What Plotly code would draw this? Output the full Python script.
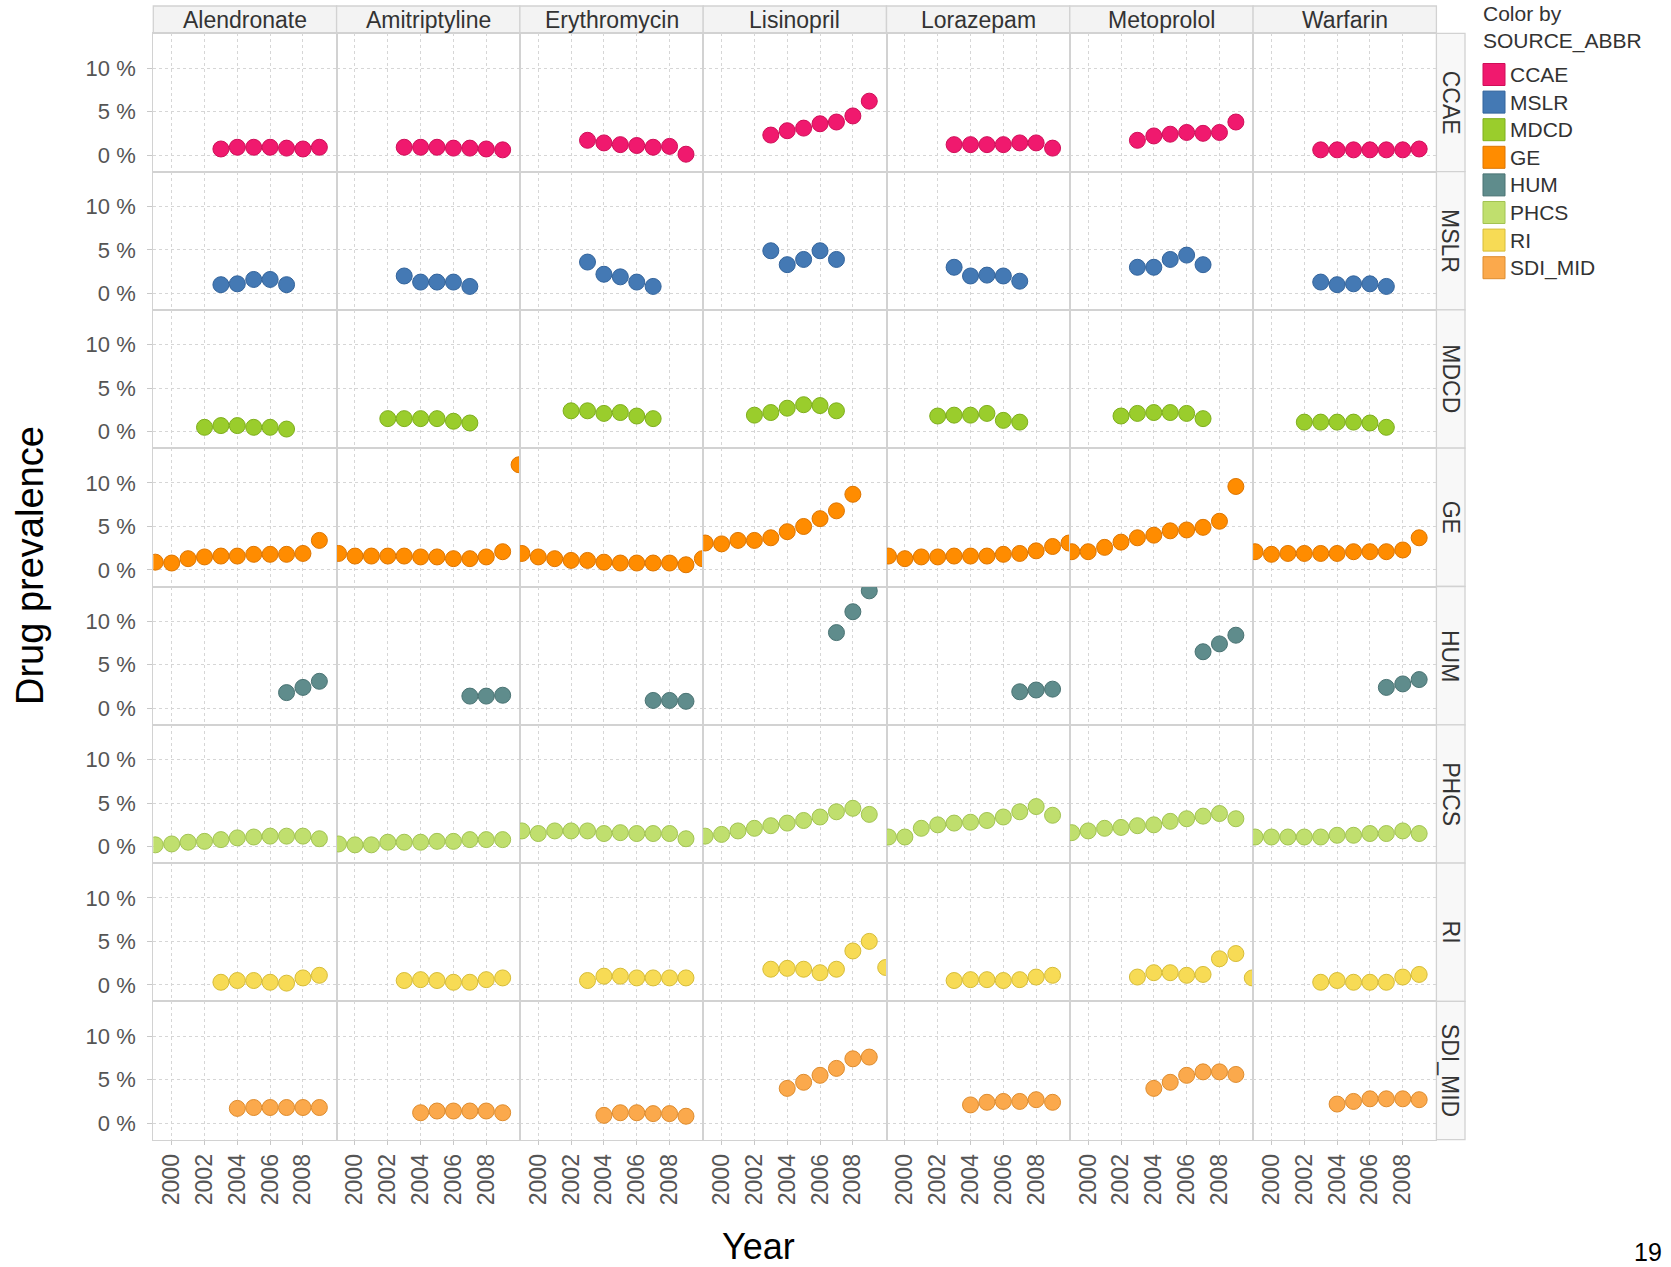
import plotly.graph_objects as go

W, H = 1671, 1267

DRUGS = ["Alendronate", "Amitriptyline", "Erythromycin", "Lisinopril", "Lorazepam", "Metoprolol", "Warfarin"]
SOURCES = ["CCAE", "MSLR", "MDCD", "GE", "HUM", "PHCS", "RI", "SDI_MID"]
X_TICKS = [2000, 2002, 2004, 2006, 2008]
Y_TICKS = [0, 5, 10]
Y_TICK_TEXT = ["0 %", "5 %", "10 %"]

# First year of each drug's series (order follows DRUGS), and prevalence values in %
CCAE_START = [2003, 2003, 2003, 2003, 2003, 2003, 2003]
CCAE = [
    [0.7, 0.9, 0.9, 0.9, 0.8, 0.7, 0.9],
    [0.9, 0.9, 0.9, 0.8, 0.8, 0.7, 0.6],
    [1.7, 1.4, 1.2, 1.1, 0.9, 1.0, 0.1],
    [2.3, 2.8, 3.1, 3.6, 3.8, 4.5, 6.2],
    [1.2, 1.2, 1.2, 1.2, 1.4, 1.4, 0.8],
    [1.7, 2.2, 2.4, 2.6, 2.5, 2.6, 3.8],
    [0.6, 0.6, 0.6, 0.6, 0.6, 0.6, 0.7],
]
MSLR_START = [2003, 2003, 2003, 2003, 2003, 2003, 2003]
MSLR = [
    [1.0, 1.1, 1.6, 1.6, 1.0],
    [2.0, 1.3, 1.3, 1.3, 0.8],
    [3.6, 2.2, 1.9, 1.3, 0.8],
    [4.9, 3.3, 3.9, 4.9, 3.9],
    [3.0, 2.0, 2.1, 2.0, 1.4],
    [3.0, 3.0, 3.9, 4.4, 3.3],
    [1.3, 1.0, 1.1, 1.1, 0.8],
]
MDCD_START = [2002, 2002, 2002, 2002, 2002, 2002, 2002]
MDCD = [
    [0.5, 0.7, 0.7, 0.5, 0.5, 0.3],
    [1.5, 1.5, 1.5, 1.5, 1.2, 1.0],
    [2.4, 2.4, 2.1, 2.2, 1.8, 1.5],
    [1.9, 2.2, 2.7, 3.1, 3.0, 2.4],
    [1.8, 1.9, 1.9, 2.1, 1.3, 1.1],
    [1.8, 2.1, 2.2, 2.2, 2.1, 1.5],
    [1.1, 1.1, 1.1, 1.1, 1.0, 0.5],
]
GE_START = [1999, 1999, 1999, 1999, 1999, 1999, 1999]
GE = [
    [0.9, 0.8, 1.3, 1.5, 1.6, 1.6, 1.8, 1.8, 1.8, 1.9, 3.4],
    [1.9, 1.6, 1.6, 1.6, 1.6, 1.5, 1.5, 1.3, 1.3, 1.5, 2.1, 12.1],
    [1.9, 1.5, 1.3, 1.1, 1.1, 0.9, 0.8, 0.8, 0.8, 0.8, 0.6, 1.3],
    [3.1, 3.0, 3.4, 3.4, 3.7, 4.4, 5.0, 5.9, 6.8, 8.7],
    [1.6, 1.3, 1.5, 1.5, 1.6, 1.6, 1.6, 1.8, 1.9, 2.2, 2.7, 3.1],
    [2.1, 2.1, 2.6, 3.2, 3.7, 4.0, 4.5, 4.6, 4.9, 5.6, 9.6],
    [2.1, 1.8, 1.9, 1.9, 1.9, 1.9, 2.1, 2.1, 2.1, 2.3, 3.7],
]
HUM_START = [2007, 2007, 2007, 2007, 2007, 2007, 2007]
HUM = [
    [1.8, 2.4, 3.1],
    [1.4, 1.4, 1.5],
    [0.9, 0.9, 0.8],
    [8.7, 11.1, 13.5],
    [1.9, 2.1, 2.2],
    [6.5, 7.4, 8.4],
    [2.4, 2.8, 3.3],
]
PHCS_START = [1999, 1999, 1999, 1999, 1999, 1999, 1999]
PHCS = [
    [0.2, 0.3, 0.5, 0.6, 0.8, 1.0, 1.1, 1.2, 1.2, 1.2, 0.9],
    [0.3, 0.2, 0.2, 0.5, 0.5, 0.5, 0.6, 0.6, 0.8, 0.8, 0.8],
    [1.8, 1.5, 1.8, 1.8, 1.8, 1.5, 1.6, 1.5, 1.5, 1.5, 0.9],
    [1.2, 1.4, 1.8, 2.1, 2.4, 2.7, 3.0, 3.4, 4.0, 4.4, 3.7],
    [1.1, 1.1, 2.1, 2.5, 2.7, 2.8, 3.0, 3.4, 4.0, 4.6, 3.6],
    [1.6, 1.8, 2.1, 2.2, 2.4, 2.5, 2.9, 3.2, 3.5, 3.8, 3.2],
    [1.1, 1.1, 1.1, 1.1, 1.1, 1.3, 1.3, 1.5, 1.5, 1.8, 1.5],
]
RI_START = [2003, 2003, 2003, 2003, 2003, 2003, 2003]
RI = [
    [0.3, 0.5, 0.5, 0.3, 0.2, 0.8, 1.1],
    [0.5, 0.6, 0.5, 0.3, 0.3, 0.6, 0.8],
    [0.5, 1.0, 1.0, 0.8, 0.8, 0.8, 0.8],
    [1.8, 1.9, 1.8, 1.4, 1.8, 3.9, 5.0, 2.0],
    [0.5, 0.6, 0.6, 0.5, 0.6, 0.9, 1.1],
    [0.9, 1.4, 1.4, 1.1, 1.2, 3.0, 3.6, 0.8],
    [0.3, 0.5, 0.3, 0.3, 0.3, 0.9, 1.2],
]
SDI_MID_START = [2004, 2004, 2004, 2004, 2004, 2004, 2004]
SDI_MID = [
    [1.7, 1.8, 1.8, 1.8, 1.8, 1.8],
    [1.2, 1.4, 1.4, 1.4, 1.4, 1.2],
    [0.9, 1.2, 1.2, 1.1, 1.1, 0.8],
    [4.0, 4.7, 5.5, 6.3, 7.4, 7.6],
    [2.1, 2.4, 2.5, 2.5, 2.7, 2.4],
    [4.0, 4.7, 5.5, 5.9, 5.9, 5.6],
    [2.2, 2.5, 2.8, 2.8, 2.8, 2.7],
]

FILL = ["#F0196E", "#4479B4", "#9ACD2C", "#FF8C00", "#5F8C8C", "#C0DF6E", "#F7DB55", "#FBA94C"]
EDGE = ["#CF0E58", "#33649C", "#7EAE1C", "#DD7500", "#4A7373", "#A2C352", "#D6BC38", "#DE8C2E"]

DATA = [
    (CCAE_START, CCAE), (MSLR_START, MSLR), (MDCD_START, MDCD), (GE_START, GE),
    (HUM_START, HUM), (PHCS_START, PHCS), (RI_START, RI), (SDI_MID_START, SDI_MID),
]

# ---- geometry (pixels) ----
LEFT, COLW = 153.3, 183.3
TOP, ROWH = 33.3, 138.3
HEAD_TOP = 6.0
STRIP_R = 1465.0
RIGHT = LEFT + 7 * COLW
BOTTOM = TOP + 8 * ROWH
XR = [1998.88, 2010.05]
YR = [-1.9, 14.0]

def px(x):
    return x / W

def py(y):
    return 1 - y / H

TICK_FONT = "Liberation Sans Narrow, Arial Narrow, Liberation Sans, Arial, sans-serif"
REG_FONT = "Liberation Sans, Arial, sans-serif"
GRID = "#d6d6d6"
BORDER = "#d2d2d2"

fig = go.Figure()
layout = {}

for r, src in enumerate(SOURCES):
    starts, series = DATA[r]
    for c, drug in enumerate(DRUGS):
        i = r * 7 + c + 1
        xa = "x" if i == 1 else f"x{i}"
        ya = "y" if i == 1 else f"y{i}"
        vals = series[c]
        years = [starts[c] + k for k in range(len(vals))]
        fig.add_trace(go.Scatter(
            x=years, y=vals, xaxis=xa, yaxis=ya, mode="markers",
            name=src, showlegend=False,
            marker=dict(size=16, color=FILL[r], line=dict(width=1, color=EDGE[r])),
            cliponaxis=True,
            hovertemplate=f"{drug} / {src}<br>%{{x}}: %{{y}} %<extra></extra>",
        ))
        x0 = LEFT + c * COLW
        y0 = TOP + r * ROWH
        bottom_row = r == 7
        xkey = "xaxis" if i == 1 else f"xaxis{i}"
        ykey = "yaxis" if i == 1 else f"yaxis{i}"
        layout[xkey] = dict(
            domain=[px(x0), px(x0 + COLW)], anchor=ya, range=XR,
            tickvals=X_TICKS, showticklabels=bottom_row, tickangle=-90,
            tickfont=dict(family=TICK_FONT, size=23, color="#555555"),
            ticks="outside" if bottom_row else "", ticklen=4, tickcolor="#c8c8c8",
            showgrid=True, gridcolor=GRID, griddash="dot", gridwidth=1,
            zeroline=False, showline=True, mirror=True, linecolor=BORDER, linewidth=1.3,
            ticklabelstandoff=0, fixedrange=True,
        )
        layout[ykey] = dict(
            domain=[py(y0 + ROWH), py(y0)], anchor=xa, range=YR,
            tickvals=Y_TICKS, ticktext=Y_TICK_TEXT, showticklabels=(c == 0),
            tickfont=dict(family=TICK_FONT, size=22, color="#555555"),
            ticks="outside" if c == 0 else "", ticklen=5, tickcolor="#c8c8c8",
            showgrid=True, gridcolor=GRID, griddash="dot", gridwidth=1,
            zeroline=False, showline=True, mirror=True, linecolor=BORDER, linewidth=1.3,
            ticklabelstandoff=7, fixedrange=True,
        )

shapes = []
annotations = []

# column headers
for c, drug in enumerate(DRUGS):
    x0 = LEFT + c * COLW
    shapes.append(dict(type="rect", xref="paper", yref="paper",
                       x0=px(x0), x1=px(x0 + COLW), y0=py(TOP), y1=py(HEAD_TOP),
                       fillcolor="#f3f3f3", line=dict(color=BORDER, width=1.3), layer="below"))
    annotations.append(dict(xref="paper", yref="paper", x=px(x0 + COLW / 2), y=py((HEAD_TOP + TOP) / 2),
                            text=drug, showarrow=False, xanchor="center", yanchor="middle",
                            font=dict(family=TICK_FONT, size=23, color="#333333")))

# row strips
for r, src in enumerate(SOURCES):
    y0 = TOP + r * ROWH
    shapes.append(dict(type="rect", xref="paper", yref="paper",
                       x0=px(RIGHT), x1=px(STRIP_R), y0=py(y0 + ROWH), y1=py(y0),
                       fillcolor="#f8f8f8", line=dict(color=BORDER, width=1.3), layer="below"))
    annotations.append(dict(xref="paper", yref="paper", x=px((RIGHT + STRIP_R) / 2), y=py(y0 + ROWH / 2),
                            text=src, showarrow=False, textangle=90, xanchor="center", yanchor="middle",
                            font=dict(family=TICK_FONT, size=23, color="#333333")))

# legend
LEG_X = 1483
annotations.append(dict(xref="paper", yref="paper", x=px(LEG_X - 2), y=py(14), text="Color by",
                        showarrow=False, xanchor="left", yanchor="middle",
                        font=dict(family=REG_FONT, size=21, color="#333333")))
annotations.append(dict(xref="paper", yref="paper", x=px(LEG_X - 2), y=py(41), text="SOURCE_ABBR",
                        showarrow=False, xanchor="left", yanchor="middle",
                        font=dict(family=REG_FONT, size=21, color="#333333")))
for r, src in enumerate(SOURCES):
    cy = 74.5 + r * 27.6
    shapes.append(dict(type="rect", xref="paper", yref="paper",
                       x0=px(LEG_X), x1=px(LEG_X + 22), y0=py(cy + 11), y1=py(cy - 11),
                       fillcolor=FILL[r], line=dict(color=EDGE[r], width=1)))
    annotations.append(dict(xref="paper", yref="paper", x=px(LEG_X + 25), y=py(cy), text=src,
                            showarrow=False, xanchor="left", yanchor="middle",
                            font=dict(family=REG_FONT, size=21, color="#333333")))

# axis titles and page number
annotations.append(dict(xref="paper", yref="paper", x=px(30), y=py(566), text="Drug prevalence",
                        showarrow=False, textangle=-90, xanchor="center", yanchor="middle",
                        font=dict(family=REG_FONT, size=38, color="#000000")))
annotations.append(dict(xref="paper", yref="paper", x=px(758), y=py(1246), text="Year",
                        showarrow=False, xanchor="center", yanchor="middle",
                        font=dict(family=REG_FONT, size=36, color="#000000")))
annotations.append(dict(xref="paper", yref="paper", x=px(1648), y=py(1252), text="19",
                        showarrow=False, xanchor="center", yanchor="middle",
                        font=dict(family=REG_FONT, size=25, color="#000000")))

fig.update_layout(
    width=W, height=H, margin=dict(l=0, r=0, t=0, b=0),
    paper_bgcolor="white", plot_bgcolor="white",
    showlegend=False, shapes=shapes, annotations=annotations,
    **layout,
)

fig.write_html("out.html", config={"displayModeBar": False},
               post_script="document.body.style.margin='0';document.body.style.overflow='hidden';")
